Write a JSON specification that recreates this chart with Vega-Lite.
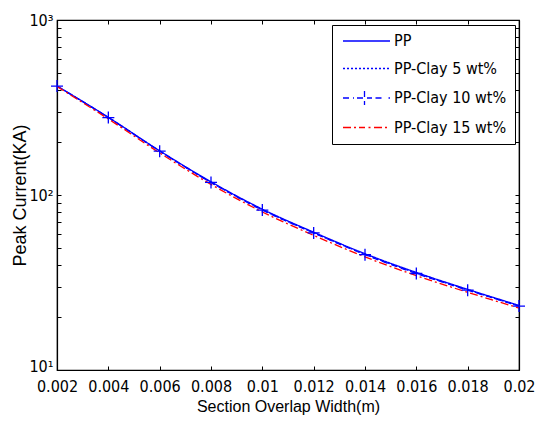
{
  "$schema": "https://vega.github.io/schema/vega-lite/v6.json",
  "autosize": "none",
  "width": 462,
  "height": 350,
  "padding": {"left": 57, "top": 20, "right": 28, "bottom": 57},
  "background": "white",
  "config": {
    "view": {"stroke": "black", "strokeWidth": 1.2},
    "font": "Liberation Sans",
    "axis": {"grid": false, "domainColor": "black", "tickColor": "black", "labelColor": "black", "titleColor": "black", "labelFont": "DejaVu Sans Condensed, Liberation Sans", "titleFont": "Liberation Sans", "labelFontSize": 16, "titleFontSize": 16, "titleFontWeight": "normal", "tickSize": -4, "domainWidth": 1.2}
  },
  "data": {"values": [
    {"x": 0.002, "y": 420, "series": "PP"},
    {"x": 0.004, "y": 278, "series": "PP"},
    {"x": 0.006, "y": 179, "series": "PP"},
    {"x": 0.008, "y": 119, "series": "PP"},
    {"x": 0.01, "y": 83, "series": "PP"},
    {"x": 0.012, "y": 61.3, "series": "PP"},
    {"x": 0.014, "y": 46.2, "series": "PP"},
    {"x": 0.016, "y": 36.1, "series": "PP"},
    {"x": 0.018, "y": 28.9, "series": "PP"},
    {"x": 0.02, "y": 23.4, "series": "PP"},
    {"x": 0.002, "y": 419, "series": "PP-Clay 5 wt%"},
    {"x": 0.004, "y": 277, "series": "PP-Clay 5 wt%"},
    {"x": 0.006, "y": 178, "series": "PP-Clay 5 wt%"},
    {"x": 0.008, "y": 118, "series": "PP-Clay 5 wt%"},
    {"x": 0.01, "y": 82.3, "series": "PP-Clay 5 wt%"},
    {"x": 0.012, "y": 60.8, "series": "PP-Clay 5 wt%"},
    {"x": 0.014, "y": 45.8, "series": "PP-Clay 5 wt%"},
    {"x": 0.016, "y": 35.8, "series": "PP-Clay 5 wt%"},
    {"x": 0.018, "y": 28.7, "series": "PP-Clay 5 wt%"},
    {"x": 0.02, "y": 23.2, "series": "PP-Clay 5 wt%"},
    {"x": 0.002, "y": 419, "series": "PP-Clay 10 wt%"},
    {"x": 0.004, "y": 277, "series": "PP-Clay 10 wt%"},
    {"x": 0.006, "y": 178, "series": "PP-Clay 10 wt%"},
    {"x": 0.008, "y": 118, "series": "PP-Clay 10 wt%"},
    {"x": 0.01, "y": 82, "series": "PP-Clay 10 wt%"},
    {"x": 0.012, "y": 60.7, "series": "PP-Clay 10 wt%"},
    {"x": 0.014, "y": 45.6, "series": "PP-Clay 10 wt%"},
    {"x": 0.016, "y": 35.6, "series": "PP-Clay 10 wt%"},
    {"x": 0.018, "y": 28.6, "series": "PP-Clay 10 wt%"},
    {"x": 0.02, "y": 23.2, "series": "PP-Clay 10 wt%"},
    {"x": 0.002, "y": 417, "series": "PP-Clay 15 wt%"},
    {"x": 0.004, "y": 272, "series": "PP-Clay 15 wt%"},
    {"x": 0.006, "y": 174, "series": "PP-Clay 15 wt%"},
    {"x": 0.008, "y": 115, "series": "PP-Clay 15 wt%"},
    {"x": 0.01, "y": 80, "series": "PP-Clay 15 wt%"},
    {"x": 0.012, "y": 58.8, "series": "PP-Clay 15 wt%"},
    {"x": 0.014, "y": 44.3, "series": "PP-Clay 15 wt%"},
    {"x": 0.016, "y": 34.6, "series": "PP-Clay 15 wt%"},
    {"x": 0.018, "y": 27.8, "series": "PP-Clay 15 wt%"},
    {"x": 0.02, "y": 22.6, "series": "PP-Clay 15 wt%"}
  ]},
  "layer": [
    {
      "mark": {"type": "line", "strokeWidth": 1.3, "interpolate": "monotone", "clip": true},
      "encoding": {
        "x": {"field": "x", "type": "quantitative", "scale": {"domain": [0.002, 0.02], "nice": false, "zero": false},
          "axis": {"title": "Section Overlap Width(m)", "values": [0.002, 0.004, 0.006, 0.008, 0.01, 0.012, 0.014, 0.016, 0.018, 0.02], "format": "~g", "labelPadding": 12, "titlePadding": 4, "labelFlush": false}},
        "y": {"field": "y", "type": "quantitative", "scale": {"type": "log", "domain": [10, 1000], "nice": false},
          "axis": {"title": "Peak Current(KA)", "titleFontSize": 18, "values": [10, 20, 30, 40, 50, 60, 70, 80, 90, 100, 200, 300, 400, 500, 600, 700, 800, 900, 1000], "labelExpr": "datum.value == 10 ? '10¹' : datum.value == 100 ? '10²' : datum.value == 1000 ? '10³' : ''", "labelPadding": 8, "titlePadding": -1, "labelFlush": false,
            "labelOffset": {"condition": {"test": "datum.value == 10", "value": -4}, "value": 0}}},
        "color": {"field": "series", "type": "nominal", "sort": ["PP", "PP-Clay 5 wt%", "PP-Clay 10 wt%", "PP-Clay 15 wt%"],
          "scale": {"domain": ["PP", "PP-Clay 5 wt%", "PP-Clay 10 wt%", "PP-Clay 15 wt%"], "range": ["#0000ff", "#0000ff", "#0000ff", "#ff0000"]},
          "legend": {"title": null, "orient": "none", "legendX": 275, "legendY": 5, "symbolType": "stroke", "symbolSize": 100, "symbolStrokeWidth": 1.3, "labelFontSize": 16, "labelFont": "DejaVu Sans Condensed, Liberation Sans", "labelColor": "black", "rowPadding": 11.5, "padding": 8, "strokeColor": "black", "fillColor": "white", "labelOffset": 38,
            "encode": {"symbols": {"update": {
              "shape": {"signal": "datum.value == 'PP' ? 'M-1,0H8.4' : datum.value == 'PP-Clay 5 wt%' ? 'M-1,0h0.4M-0.2,0h0.4M0.6,0h0.4M1.4,0h0.4M2.2,0h0.4M3,0h0.4M3.8,0h0.4M4.6,0h0.4M5.4,0h0.4M6.2,0h0.4M7,0h0.4M7.8,0h0.4' : datum.value == 'PP-Clay 10 wt%' ? 'M-1,0h2.2M1.8,0h3M3.3,-1.4v2.8M5.5,0h1.6M8.1,0h0.3' : 'M-1,0h4.4M4.1,0h0.4M5.2,0h3.2'"},
              "strokeDash": {"value": [1, 0]}}}}}},
        "strokeDash": {"field": "series", "type": "nominal", "sort": ["PP", "PP-Clay 5 wt%", "PP-Clay 10 wt%", "PP-Clay 15 wt%"],
          "scale": {"domain": ["PP", "PP-Clay 5 wt%", "PP-Clay 10 wt%", "PP-Clay 15 wt%"], "range": [[1, 0], [2, 2], [6, 4], [8, 3, 2, 3]]}}
      }
    },
    {
      "transform": [{"filter": "datum.series == 'PP-Clay 10 wt%'"}],
      "mark": {"type": "point", "shape": "M-1,0H1M0,-1V1", "size": 144, "filled": false, "strokeWidth": 1.3, "color": "#0000ff", "opacity": 1, "clip": false},
      "encoding": {
        "x": {"field": "x", "type": "quantitative", "axis": {"orient": "top", "title": null, "labels": false, "values": [0.002, 0.004, 0.006, 0.008, 0.01, 0.012, 0.014, 0.016, 0.018, 0.02]}},
        "y": {"field": "y", "type": "quantitative", "axis": {"orient": "right", "title": null, "labels": false, "values": [10, 20, 30, 40, 50, 60, 70, 80, 90, 100, 200, 300, 400, 500, 600, 700, 800, 900, 1000]}}
      }
    }
  ],
  "resolve": {"axis": {"x": "independent", "y": "independent"}}
}
